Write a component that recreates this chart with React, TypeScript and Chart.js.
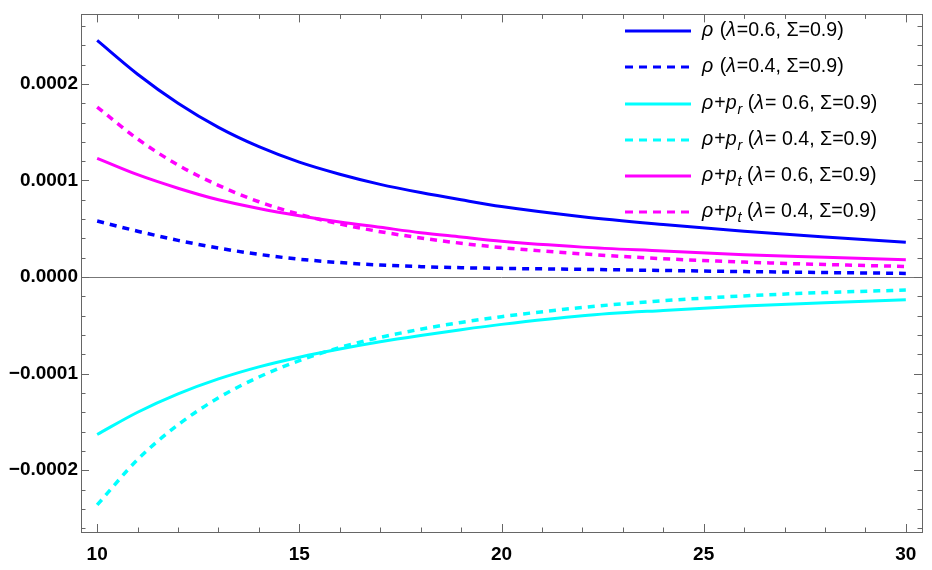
import React, { useEffect, useRef } from 'react';
import Chart from 'chart.js/auto';

// radial coordinate samples
const rValues = [10, 11, 12, 13, 14, 15, 16, 17, 18, 19, 20, 22, 24, 26, 28, 30];

// values in units of 1e-4
const rhoL06 = [2.45, 2.1, 1.8, 1.55, 1.35, 1.19, 1.065, 0.96, 0.875, 0.8, 0.73, 0.625, 0.545, 0.475, 0.415, 0.36];
const rhoL04 = [0.58, 0.475, 0.38, 0.3, 0.235, 0.185, 0.15, 0.125, 0.108, 0.097, 0.09, 0.08, 0.068, 0.057, 0.047, 0.038];
const rhoPrL06 = [-1.63, -1.4, -1.21, -1.055, -0.93, -0.83, -0.745, -0.67, -0.605, -0.545, -0.49, -0.4, -0.345, -0.3, -0.265, -0.235];
const rhoPrL04 = [-2.36, -1.89, -1.53, -1.25, -1.035, -0.865, -0.73, -0.625, -0.54, -0.47, -0.41, -0.315, -0.245, -0.195, -0.16, -0.135];
const rhoPtL06 = [1.23, 1.06, 0.92, 0.8, 0.71, 0.635, 0.57, 0.515, 0.46, 0.415, 0.37, 0.31, 0.27, 0.23, 0.205, 0.18];
const rhoPtL04 = [1.76, 1.43, 1.16, 0.95, 0.78, 0.65, 0.55, 0.47, 0.405, 0.35, 0.305, 0.24, 0.19, 0.155, 0.13, 0.11];

const SCALE = 1e-4;
const xTicks = [10, 15, 20, 25, 30];
const yTicks = [-0.0002, -0.0001, 0, 0.0001, 0.0002];

type Seg = { t: string; it?: boolean; sub?: boolean };

const legendItems: { color: string; dash: number[]; segs: Seg[] }[] = [
  { color: '#0000ff', dash: [], segs: [{ t: 'ρ', it: true }, { t: ' (' }, { t: 'λ', it: true }, { t: '=0.6, Σ=0.9)' }] },
  { color: '#0000ff', dash: [8, 6], segs: [{ t: 'ρ', it: true }, { t: ' (' }, { t: 'λ', it: true }, { t: '=0.4, Σ=0.9)' }] },
  { color: '#00ffff', dash: [], segs: [{ t: 'ρ', it: true }, { t: '+' }, { t: 'p', it: true }, { t: 'r', it: true, sub: true }, { t: ' (' }, { t: 'λ', it: true }, { t: '= 0.6, Σ=0.9)' }] },
  { color: '#00ffff', dash: [8, 6], segs: [{ t: 'ρ', it: true }, { t: '+' }, { t: 'p', it: true }, { t: 'r', it: true, sub: true }, { t: ' (' }, { t: 'λ', it: true }, { t: '= 0.4, Σ=0.9)' }] },
  { color: '#ff00ff', dash: [], segs: [{ t: 'ρ', it: true }, { t: '+' }, { t: 'p', it: true }, { t: 't', it: true, sub: true }, { t: ' (' }, { t: 'λ', it: true }, { t: '= 0.6, Σ=0.9)' }] },
  { color: '#ff00ff', dash: [8, 6], segs: [{ t: 'ρ', it: true }, { t: '+' }, { t: 'p', it: true }, { t: 't', it: true, sub: true }, { t: ' (' }, { t: 'λ', it: true }, { t: '= 0.4, Σ=0.9)' }] },
];

const FONT = '"Liberation Sans", Arial, sans-serif';

const framePlugin = {
  id: 'mmaFrame',
  beforeDatasetsDraw(chart: any) {
    const { ctx, chartArea } = chart;
    const y0 = chart.scales.y.getPixelForValue(0);
    ctx.save();
    ctx.strokeStyle = '#777';
    ctx.lineWidth = 1;
    ctx.beginPath();
    ctx.moveTo(chartArea.left, Math.round(y0) + 0.5);
    ctx.lineTo(chartArea.right, Math.round(y0) + 0.5);
    ctx.stroke();
    ctx.restore();
  },
  afterDraw(chart: any) {
    const { ctx, chartArea } = chart;
    const { left, right, top, bottom } = chartArea;
    const xs = chart.scales.x;
    const ys = chart.scales.y;
    ctx.save();
    ctx.strokeStyle = '#666';
    ctx.lineWidth = 1;
    ctx.strokeRect(Math.round(left) + 0.5, Math.round(top) + 0.5, Math.round(right - left), Math.round(bottom - top));

    ctx.beginPath();
    for (let i = -13; i <= 13; i++) {
      const v = i * 0.00002;
      if (v < ys.min || v > ys.max) continue;
      const len = i % 5 === 0 ? 8 : 4.5;
      const py = Math.round(ys.getPixelForValue(v)) + 0.5;
      ctx.moveTo(left, py);
      ctx.lineTo(left + len, py);
      ctx.moveTo(right, py);
      ctx.lineTo(right - len, py);
    }
    for (let v = 10; v <= 30; v++) {
      const len = v % 5 === 0 ? 8 : 4.5;
      const px = Math.round(xs.getPixelForValue(v)) + 0.5;
      ctx.moveTo(px, bottom);
      ctx.lineTo(px, bottom - len);
      ctx.moveTo(px, top);
      ctx.lineTo(px, top + len);
    }
    ctx.stroke();

    // legend
    const lx0 = 625;
    const lx1 = 691;
    const tx = 702;
    const rowY = [31, 67, 104, 140, 176, 212];
    legendItems.forEach((item, i) => {
      const y = rowY[i];
      ctx.strokeStyle = item.color;
      ctx.lineWidth = 3;
      ctx.setLineDash(item.dash);
      ctx.beginPath();
      ctx.moveTo(lx0, y);
      ctx.lineTo(lx1, y);
      ctx.stroke();
      ctx.setLineDash([]);
      let x = tx;
      ctx.fillStyle = '#000';
      ctx.textBaseline = 'middle';
      ctx.textAlign = 'left';
      item.segs.forEach((s) => {
        const size = s.sub ? 14.5 : 19.6;
        ctx.font = `${s.it ? 'italic ' : ''}${size}px ${FONT}`;
        ctx.fillText(s.t, x, s.sub ? y + 6 : y);
        x += ctx.measureText(s.t).width + (s.it && !s.sub ? 1 : 0);
      });
    });
    ctx.restore();
  },
};

const makeSet = (label: string, vals: number[], color: string, dashed: boolean) => ({
  label,
  data: rValues.map((r, i) => ({ x: r, y: vals[i] * SCALE })),
  borderColor: color,
  backgroundColor: color,
  borderWidth: dashed ? 3.5 : 3,
  borderDash: dashed ? [7, 6] : [],
  pointRadius: 0,
  cubicInterpolationMode: 'monotone' as const,
  fill: false,
});

export default function App() {
  const canvasRef = useRef<HTMLCanvasElement | null>(null);
  const chartRef = useRef<Chart | null>(null);

  useEffect(() => {
    if (!canvasRef.current) return;
    chartRef.current?.destroy();
    chartRef.current = new Chart(canvasRef.current, {
      type: 'line',
      data: {
        datasets: [
          makeSet('ρ (λ=0.6, Σ=0.9)', rhoL06, '#0000ff', false),
          makeSet('ρ (λ=0.4, Σ=0.9)', rhoL04, '#0000ff', true),
          makeSet('ρ+p_r (λ= 0.6, Σ=0.9)', rhoPrL06, '#00ffff', false),
          makeSet('ρ+p_r (λ= 0.4, Σ=0.9)', rhoPrL04, '#00ffff', true),
          makeSet('ρ+p_t (λ= 0.6, Σ=0.9)', rhoPtL06, '#ff00ff', false),
          makeSet('ρ+p_t (λ= 0.4, Σ=0.9)', rhoPtL04, '#ff00ff', true),
        ],
      },
      options: {
        animation: false,
        responsive: true,
        maintainAspectRatio: false,
        layout: { padding: { top: 12, right: 10, left: 0, bottom: 0 } },
        plugins: { legend: { display: false }, tooltip: { enabled: false } },
        scales: {
          x: {
            type: 'linear',
            min: 9.6,
            max: 30.4,
            grid: { display: false },
            border: { display: false },
            afterBuildTicks: (s: any) => {
              s.ticks = xTicks.map((v) => ({ value: v }));
            },
            afterFit: (s: any) => {
              s.height = 38;
            },
            ticks: {
              color: '#000',
              padding: 3,
              maxRotation: 0,
              autoSkip: false,
              font: { family: FONT, weight: 'bold', size: 19 },
            },
          },
          y: {
            type: 'linear',
            min: -0.000264,
            max: 0.000272,
            grid: { display: false, drawTicks: false },
            border: { display: false },
            afterBuildTicks: (s: any) => {
              s.ticks = yTicks.map((v) => ({ value: v }));
            },
            afterFit: (s: any) => {
              s.width = 81;
            },
            ticks: {
              color: '#000',
              padding: 3,
              autoSkip: false,
              font: { family: FONT, weight: 'bold', size: 19 },
              callback: (v: any) => {
                const n = Number(v);
                const s = Math.abs(n).toFixed(4);
                return n < 0 ? '−' + s : s;
              },
            },
          },
        },
      },
      plugins: [framePlugin],
    });
    return () => {
      chartRef.current?.destroy();
      chartRef.current = null;
    };
  }, []);

  return (
    <div style={{ position: 'fixed', left: 0, top: 0, width: 932, height: 570, background: '#fff' }}>
      <canvas ref={canvasRef} />
    </div>
  );
}
